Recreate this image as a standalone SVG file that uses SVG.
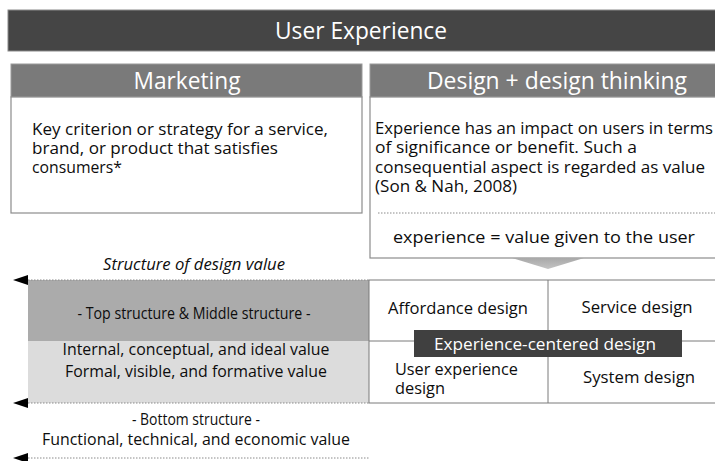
<svg xmlns="http://www.w3.org/2000/svg" width="715" height="461" viewBox="0 0 715 461">
<style>
text{font-family:"Open Sans","Noto Sans","Liberation Sans",sans-serif;fill:#0d0d0d;}
.hd{fill:#ffffff;font-size:23px;text-anchor:middle;}
.b{font-size:17px;}
.c{font-size:17px;text-anchor:middle;}
.w{fill:#ffffff;font-size:17px;text-anchor:middle;}
.dot{stroke:#8a8a8a;stroke-width:1;stroke-dasharray:1.5 1.5;fill:none;}
.box{fill:#ffffff;stroke:#8c8c8c;stroke-width:1.2;}
.hbar{fill:#7a7a7a;stroke:#9a9a9a;stroke-width:1;}
.grid{stroke:#7a7a7a;stroke-width:1;fill:none;}
.ah{fill:#000000;}
</style>
<defs>
<linearGradient id="chev" x1="0" y1="0" x2="0" y2="1">
<stop offset="0" stop-color="#a8a8a8"/>
<stop offset="1" stop-color="#c4c4c4"/>
</linearGradient>
</defs>
<rect width="715" height="461" fill="#ffffff"/>

<g id="user-experience">
<rect x="8" y="10" width="708" height="41" fill="#454545" stroke="#8a8a8a" stroke-width="1"/>
<text class="hd" x="361" y="38.5" textLength="172" lengthAdjust="spacingAndGlyphs">User Experience</text>
</g>

<g id="marketing">
<rect class="hbar" x="11" y="64" width="351" height="33"/>
<text class="hd" x="187" y="89" textLength="107" lengthAdjust="spacingAndGlyphs">Marketing</text>
<rect class="box" x="11" y="97" width="351" height="116"/>
<text class="b" x="32" y="135" textLength="296" lengthAdjust="spacingAndGlyphs">Key criterion or strategy for a service,</text>
<text class="b" x="32" y="154" textLength="246" lengthAdjust="spacingAndGlyphs">brand, or product that satisfies</text>
<text class="b" x="32" y="173" textLength="90" lengthAdjust="spacingAndGlyphs">consumers*</text>
</g>

<g id="design-thinking">
<rect class="hbar" x="370" y="64" width="346" height="33"/>
<text class="hd" x="557" y="89" textLength="260" lengthAdjust="spacingAndGlyphs">Design + design thinking</text>
<rect class="box" x="370" y="97" width="346" height="161"/>
<text class="b" x="375" y="134" textLength="338" lengthAdjust="spacingAndGlyphs">Experience has an impact on users in terms</text>
<text class="b" x="375" y="153" textLength="262" lengthAdjust="spacingAndGlyphs">of significance or benefit. Such a</text>
<text class="b" x="375" y="173" textLength="330" lengthAdjust="spacingAndGlyphs">consequential aspect is regarded as value</text>
<text class="b" x="375" y="192" textLength="142" lengthAdjust="spacingAndGlyphs">(Son &amp; Nah, 2008)</text>
<line class="dot" x1="378" y1="213" x2="715" y2="213"/>
<text class="c" x="544" y="243" textLength="302" lengthAdjust="spacingAndGlyphs">experience = value given to the user</text>
</g>

<g id="down-arrow">
<polygon points="512,258 584,258 548,269" fill="url(#chev)"/>
</g>

<g id="structure-of-design-value">
<text class="c" x="194" y="270" font-style="italic" fill="#333333" font-size="16" textLength="182" lengthAdjust="spacingAndGlyphs">Structure of design value</text>
<rect x="28" y="280" width="341" height="61" fill="#ababab"/>
<rect x="28" y="341" width="341" height="62" fill="#dcdcdc"/>
<text class="c" x="194" y="319" font-size="16" textLength="233" lengthAdjust="spacingAndGlyphs">- Top structure &amp; Middle structure -</text>
<text class="c" x="196" y="355" textLength="267" lengthAdjust="spacingAndGlyphs">Internal, conceptual, and ideal value</text>
<text class="c" x="196" y="377" textLength="262" lengthAdjust="spacingAndGlyphs">Formal, visible, and formative value</text>
<text class="c" x="196" y="425" font-size="16" textLength="128" lengthAdjust="spacingAndGlyphs">- Bottom structure -</text>
<text class="c" x="196" y="445" textLength="308" lengthAdjust="spacingAndGlyphs">Functional, technical, and economic value</text>
</g>

<g id="design-grid">
<rect x="369" y="280" width="347" height="123" fill="#ffffff" stroke="#7a7a7a" stroke-width="1"/>
<line class="grid" x1="548" y1="280" x2="548" y2="403"/>
<line class="grid" x1="369" y1="341" x2="715" y2="341"/>
<text class="c" x="458" y="314" textLength="140" lengthAdjust="spacingAndGlyphs">Affordance design</text>
<text class="c" x="637" y="313" textLength="111" lengthAdjust="spacingAndGlyphs">Service design</text>
<text class="b" x="395" y="375" textLength="123" lengthAdjust="spacingAndGlyphs">User experience</text>
<text class="b" x="395" y="394" textLength="50" lengthAdjust="spacingAndGlyphs">design</text>
<text class="c" x="639" y="383" textLength="112" lengthAdjust="spacingAndGlyphs">System design</text>
</g>

<g id="experience-centered-design">
<rect x="414" y="330" width="268" height="27" fill="#404040"/>
<text class="w" x="545" y="349.5" textLength="222" lengthAdjust="spacingAndGlyphs">Experience-centered design</text>
</g>

<g id="connectors">
<line class="dot" x1="28" y1="280" x2="369" y2="280"/>
<polygon class="ah" points="13,280 28,275 28,285"/>
<line class="dot" x1="28" y1="403" x2="369" y2="403"/>
<polygon class="ah" points="13,403 28,398 28,408"/>
<line class="dot" x1="28" y1="458" x2="369" y2="458"/>
<polygon class="ah" points="13,458 28,453 28,463"/>
</g>
</svg>
